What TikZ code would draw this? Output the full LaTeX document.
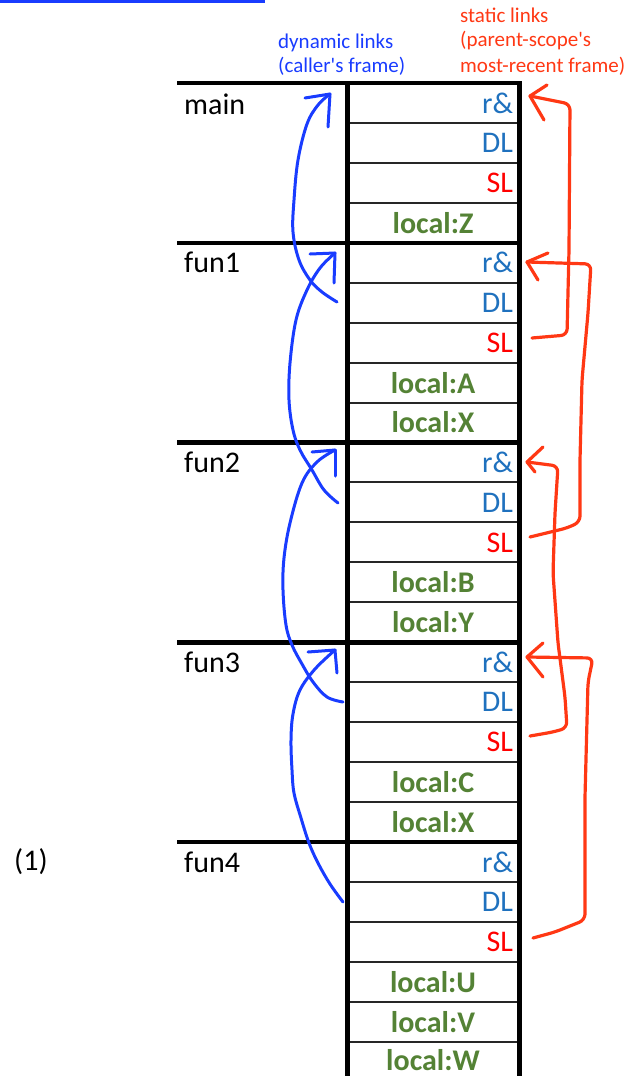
\documentclass[tikz,border=0pt]{standalone}
\usepackage{fontspec}
\setmainfont{Carlito}[Ligatures=TeXOff]
\definecolor{cellblue}{RGB}{31,113,190}
\definecolor{cellred}{RGB}{255,0,0}
\definecolor{cellgreen}{RGB}{84,130,53}
\definecolor{dlblue}{RGB}{25,60,255}
\definecolor{slred}{RGB}{255,56,20}
\tikzset{
  cell/.style={draw=black!85, line width=2pt, minimum width=172pt, minimum height=39.95pt,
    inner sep=0pt, text width=160pt, font=\fontsize{30}{30}\selectfont},
  rcell/.style={cell, text=cellblue, align=right},
  dcell/.style={cell, text=cellblue, align=right},
  scell/.style={cell, text=cellred, align=right},
  lcell/.style={cell, text=cellgreen, align=center, font=\fontsize{30}{30}\selectfont\bfseries},
  framelab/.style={anchor=west, inner sep=0pt, font=\fontsize{30}{30}\selectfont},
  framerule/.style={line width=4.5pt},
  dynhead/.style={anchor=base west, inner sep=0pt, text=dlblue, font=\fontsize{21}{24}\selectfont},
  stahead/.style={anchor=base west, inner sep=0pt, text=slred, font=\fontsize{21}{24}\selectfont},
  dynlink/.style={dlblue, line width=3pt, line cap=round, line join=round},
  stalink/.style={slred, line width=3.2pt, line cap=round, line join=round, rounded corners=6pt},
}
\begin{document}
\begin{tikzpicture}[x=1pt, y=-1pt]
\useasboundingbox (0,0) rectangle (634,1076);
\fill[dlblue] (0,0) rectangle (265,2.5);
% headers
\node[dynhead] (hd1) at (278,48) {dynamic links};
\node[dynhead] (hd2) at (278,72) {(caller's frame)};
\node[stahead] (hs1) at (460,22) {static links};
\node[stahead] (hs2) at (460,46) {(parent-scope's};
\node[stahead] (hs3) at (460,72) {most-recent frame)};
% cells
\def\h{39.947}
\node[rcell] (m-ra) at (433,{83+0.5*\h}) {r\&};
\node[dcell] (m-dl) at (433,{83+1.5*\h}) {DL};
\node[scell] (m-sl) at (433,{83+2.5*\h}) {SL};
\node[lcell] (m-z)  at (433,{83+3.5*\h}) {local:Z};
\node[rcell] (f1-ra) at (433,{83+4.5*\h}) {r\&};
\node[dcell] (f1-dl) at (433,{83+5.5*\h}) {DL};
\node[scell] (f1-sl) at (433,{83+6.5*\h}) {SL};
\node[lcell] (f1-a)  at (433,{83+7.5*\h}) {local:A};
\node[lcell] (f1-x)  at (433,{83+8.5*\h}) {local:X};
\node[rcell] (f2-ra) at (433,{83+9.5*\h}) {r\&};
\node[dcell] (f2-dl) at (433,{83+10.5*\h}) {DL};
\node[scell] (f2-sl) at (433,{83+11.5*\h}) {SL};
\node[lcell] (f2-b)  at (433,{83+12.5*\h}) {local:B};
\node[lcell] (f2-y)  at (433,{83+13.5*\h}) {local:Y};
\node[rcell] (f3-ra) at (433,{83+14.5*\h}) {r\&};
\node[dcell] (f3-dl) at (433,{83+15.5*\h}) {DL};
\node[scell] (f3-sl) at (433,{83+16.5*\h}) {SL};
\node[lcell] (f3-c)  at (433,{83+17.5*\h}) {local:C};
\node[lcell] (f3-x)  at (433,{83+18.5*\h}) {local:X};
\node[rcell] (f4-ra) at (433,{83+19.5*\h}) {r\&};
\node[dcell] (f4-dl) at (433,{83+20.5*\h}) {DL};
\node[scell] (f4-sl) at (433,{83+21.5*\h}) {SL};
\node[lcell] (f4-u)  at (433,{83+22.5*\h}) {local:U};
\node[lcell] (f4-v)  at (433,{83+23.5*\h}) {local:V};
\node[lcell, minimum height=36pt] (f4-w) at (433,{83+24*\h+18}) {local:W};
% frame rules and stack walls
\foreach \r in {0,4,9,14,19} \draw[framerule] (177,{83+\r*\h}) -- (522,{83+\r*\h});
\draw[line width=5pt] (347,81) -- (347,1080);
\draw[line width=5pt] (519.5,81) -- (519.5,1080);
% frame labels
\node[framelab] (l-main) at (184,104) {main};
\node[framelab] (l-f1) at (184,{83+4.5*\h}) {fun1};
\node[framelab] (l-f2) at (184,{83+9.5*\h}) {fun2};
\node[framelab] (l-f3) at (184,{83+14.5*\h}) {fun3};
\node[framelab] (l-f4) at (184,{83+19.5*\h}) {fun4};
\node[framelab] (l-one) at (14,{83+19.5*\h}) {(1)};
% dynamic links
\coordinate (dA) at (337,302);
\coordinate (tA) at (330,94);
\draw[dynlink] plot[smooth, tension=0.6] coordinates {(dA) (322,292) (310,280) (299,260) (293,232) (294,200) (298,160) (307,124) (318,105) (tA)};
\draw[dynlink] (tA) -- (305,98);
\draw[dynlink] (tA) -- (328,127);
\coordinate (dB) at (338,503);
\coordinate (tB) at (335,253);
\draw[dynlink] plot[smooth, tension=0.6] coordinates {(dB) (324,490) (312,470) (300,450) (293,430) (289,400) (290,363) (296,320) (307,290) (320,268) (tB)};
\draw[dynlink] (tB) -- (310,254);
\draw[dynlink] (tB) -- (334,283);
\coordinate (dC) at (343,702);
\coordinate (tC) at (335,450);
\draw[dynlink] plot[smooth, tension=0.6] coordinates {(dC) (327,697) (313,682) (302,664) (292,645) (286,625) (283,590) (284,558) (290,523) (302,483) (317,462) (tC)};
\draw[dynlink] (tC) -- (312,452);
\draw[dynlink] (tC) -- (335,476);
\coordinate (dD) at (343,902);
\coordinate (tD) at (335,650);
\draw[dynlink] plot[smooth, tension=0.6] coordinates {(dD) (330,884) (318,863) (309,843) (301,818) (294,793) (292,770) (291,740) (293,714) (300,690) (315,669) (tD)};
\draw[dynlink] (tD) -- (308,652);
\draw[dynlink] (tD) -- (337,673);
% static links
\coordinate (sA) at (532,338);
\coordinate (rA) at (530,96);
\draw[stalink] (sA) -- (567,335) -- (569,250) -- (570,104) -- (rA);
\draw[stalink] (rA) -- (547,85);
\draw[stalink] (rA) -- (544,120);
\coordinate (sB) at (530,537);
\coordinate (rB) at (527,262);
\draw[stalink] (rB) -- (591,264) -- (588,313) -- (582,380) -- (580,460) -- (580,522) -- (567,528) -- (sB);
\draw[stalink] (rB) -- (548,253);
\draw[stalink] (rB) -- (538,280);
\coordinate (sC) at (530,736);
\coordinate (rC) at (527,462);
\draw[stalink] (rC) -- (558,466) -- (555,513) -- (553,573) -- (558,643) -- (565,697) -- (567,728) -- (553,732) -- (sC);
\draw[stalink] (rC) -- (543,447);
\draw[stalink] (rC) -- (535,472);
\coordinate (sD) at (533,938);
\coordinate (rD) at (527,657);
\draw[stalink] (rD) -- (593,658) -- (588,682) -- (585,797) -- (585,920) -- (555,932) -- (sD);
\draw[stalink] (rD) -- (543,643);
\draw[stalink] (rD) -- (543,677);
\end{tikzpicture}
\end{document}
